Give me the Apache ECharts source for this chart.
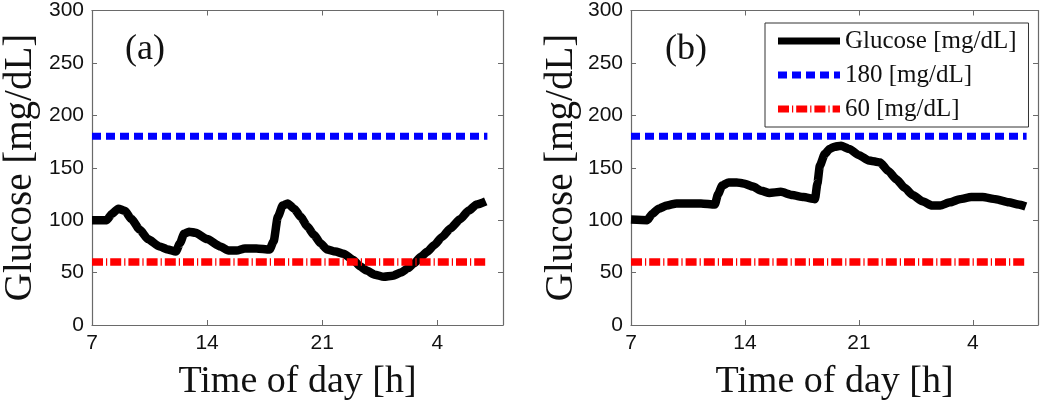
<!DOCTYPE html>
<html>
<head>
<meta charset="utf-8">
<script src="https://cdn.jsdelivr.net/npm/echarts@6/dist/echarts.min.js"></script>
<style>
html,body{margin:0;padding:0;background:#fff;}
#chart{width:1050px;height:406px;}
</style>
</head>
<body>
<div id="chart"></div>
<script>
// ---- data ----
const hoursA = [7, 7.9, 8.2, 8.6, 9.0, 9.4, 9.9, 10.4, 11.1, 11.6, 12.1, 12.35, 12.6, 12.9, 13.3, 14.0, 14.8, 15.3, 15.8, 16.3, 17.0, 17.8, 18.05, 18.3, 18.6, 18.9, 19.3, 19.7, 20.1, 20.5, 20.9, 21.3, 21.8, 22.3, 22.9, 23.3, 23.7, 24.2, 24.75, 25.3, 25.8, 26.2, 26.6, 27.0, 27.4, 27.8, 28.3, 28.8, 29.4, 29.9, 30.4, 30.95];
const glucoseA = [100, 100, 106, 111, 109, 101, 91, 82, 75, 72, 70, 78, 87, 89, 88, 82, 75, 71, 71, 73, 73, 72, 80, 103, 114, 116, 111, 103, 94, 86, 78, 72, 70, 68, 62, 56, 52, 48, 46, 47, 50, 54, 59, 65, 70, 76, 84, 92, 101, 109, 115, 118];
const hoursB = [7, 8.0, 8.3, 8.7, 9.2, 9.8, 10.5, 11.3, 12.15, 12.35, 12.6, 13.0, 13.5, 13.9, 14.5, 15.0, 15.5, 16.2, 16.9, 17.6, 18.3, 18.45, 18.6, 18.9, 19.2, 19.5, 19.9, 20.4, 21.0, 21.6, 22.3, 22.8, 23.3, 23.8, 24.3, 24.9, 25.5, 26.0, 26.6, 27.2, 27.9, 28.6, 29.4, 30.2, 30.8, 31.25];
const glucoseB = [100.6, 100, 106, 111, 114, 116, 116, 116, 115, 125, 133, 136, 136, 135, 132, 128, 126, 127, 124, 122, 120, 135, 152, 163, 168, 170, 171, 168, 162, 157, 155, 147, 139, 131, 124, 118, 114, 114, 117, 120, 122, 122, 120, 117, 115, 113];
const spanA = [7, 31.05];
const spanB = [7, 31.3];
const upperLimit = 180;
const lowerLimit = 60;
const xTickValues = [7, 14, 21, 28];
const xTickLabels = ['7', '14', '21', '4'];
const seriesNames = ['Glucose [mg/dL]', '180 [mg/dL]', '60 [mg/dL]'];
const panelLabels = ['(a)', '(b)'];
const xTitle = 'Time of day [h]';
const yTitle = 'Glucose [mg/dL]';

// ---- chart ----
const chart = echarts.init(document.getElementById('chart'), null, {renderer: 'canvas'});
const axisColor = '#6a6a6a';
const labelFont = 'Liberation Sans, Arial, sans-serif';
const serifFont = 'Liberation Serif, Times New Roman, serif';

function xFmt(v) {
  const i = xTickValues.indexOf(v);
  return i >= 0 ? xTickLabels[i] : '';
}
function pairs(xs, ys) { return xs.map((x, i) => [x, ys[i]]); }

const grids = [
  {left: 92, top: 10, width: 411, height: 315},
  {left: 631, top: 10, width: 407, height: 315}
];

const xAxes = [], yAxes = [];
grids.forEach((g, gi) => {
  xAxes.push({
    gridIndex: gi, type: 'value', min: 7, max: 32, interval: 7, position: 'bottom',
    axisLine: {show: true, onZero: false, lineStyle: {color: axisColor, width: 1.2}},
    axisTick: {show: true, inside: true, length: 5, lineStyle: {color: axisColor}},
    axisLabel: {show: true, formatter: xFmt, fontSize: 21, fontFamily: labelFont, color: '#111', margin: 8},
    splitLine: {show: false}
  });
  xAxes.push({
    gridIndex: gi, type: 'value', min: 7, max: 32, interval: 7, position: 'top',
    axisLine: {show: true, onZero: false, lineStyle: {color: axisColor, width: 1.2}},
    axisTick: {show: true, inside: true, length: 5, lineStyle: {color: axisColor}},
    axisLabel: {show: false}, splitLine: {show: false}
  });
  yAxes.push({
    gridIndex: gi, type: 'value', min: 0, max: 300, interval: 50, position: 'left',
    axisLine: {show: true, onZero: false, lineStyle: {color: axisColor, width: 1.2}},
    axisTick: {show: true, inside: true, length: 5, lineStyle: {color: axisColor}},
    axisLabel: {show: true, fontSize: 21, fontFamily: labelFont, color: '#111', margin: 8},
    splitLine: {show: false}
  });
  yAxes.push({
    gridIndex: gi, type: 'value', min: 0, max: 300, interval: 50, position: 'right',
    axisLine: {show: true, onZero: false, lineStyle: {color: axisColor, width: 1.2}},
    axisTick: {show: true, inside: true, length: 5, lineStyle: {color: axisColor}},
    axisLabel: {show: false}, splitLine: {show: false}
  });
});

function panelSeries(gi, hours, values, span) {
  const xi = gi * 2, yi = gi * 2;
  return [
    {
      name: seriesNames[0], type: 'line', xAxisIndex: xi, yAxisIndex: yi,
      data: pairs(hours, values), showSymbol: false, symbol: 'none',
      smooth: 0.2, smoothMonotone: 'x',
      lineStyle: {color: '#000', width: 8.5, join: 'round'},
      itemStyle: {color: '#000'}, z: 2
    },
    {
      name: seriesNames[1], type: 'line', xAxisIndex: xi, yAxisIndex: yi,
      data: span.map(x => [x, upperLimit]), showSymbol: false, symbol: 'none',
      lineStyle: {color: '#0000ff', width: 7, type: [9, 5]},
      itemStyle: {color: '#0000ff'}, z: 3
    },
    {
      name: seriesNames[2], type: 'line', xAxisIndex: xi, yAxisIndex: yi,
      data: span.map(x => [x, lowerLimit]), showSymbol: false, symbol: 'none',
      lineStyle: {color: '#ff0000', width: 7.5, type: [11, 3, 1.2, 3]},
      itemStyle: {color: '#ff0000'}, z: 4
    }
  ];
}

// legend icons (sample strokes) as paths
const legendIcons = [
  'path://M0,0H62V7H0Z',
  'path://M0,0h9v7h-9z M14,0h9v7h-9z M28,0h9v7h-9z M42,0h9v7h-9z M56,0h6v7h-6z',
  'path://M0,0h11v7h-11z M14,0h1.2v7h-1.2z M18.2,0h11v7h-11z M32.2,0h1.2v7h-1.2z M36.4,0h11v7h-11z M50.4,0h1.2v7h-1.2z M54.6,0h7.4v7h-7.4z'
];
const legendColors = ['#000', '#0000ff', '#ff0000'];

const graphics = [];
const yTitleX = [21, 562];
const labelPos = [[145, 50], [686, 50]];
grids.forEach((g, gi) => {
  graphics.push({
    type: 'text', x: yTitleX[gi], y: g.top + g.height / 2, rotation: Math.PI / 2,
    style: {text: yTitle, font: '39px ' + serifFont, fill: '#111', textAlign: 'center', textVerticalAlign: 'middle'}
  });
  graphics.push({
    type: 'text', x: g.left + g.width / 2, y: 382,
    style: {text: xTitle, font: '38px ' + serifFont, fill: '#111', textAlign: 'center', textVerticalAlign: 'middle'}
  });
  graphics.push({
    type: 'text', x: labelPos[gi][0], y: labelPos[gi][1],
    style: {text: panelLabels[gi], font: '36px ' + serifFont, fill: '#111', textAlign: 'center', textVerticalAlign: 'middle'}
  });
});

chart.setOption({
  animation: false,
  backgroundColor: '#fff',
  grid: grids,
  xAxis: xAxes,
  yAxis: yAxes,
  legend: {
    show: true, orient: 'vertical', left: 765, top: 23,
    data: seriesNames.map((n, i) => ({name: n, icon: legendIcons[i], itemStyle: {color: legendColors[i], borderWidth: 0}})),
    selectedMode: false, itemWidth: 62, itemHeight: 7, itemGap: 8, symbolKeepAspect: false,
    padding: [5, 12, 5, 13], borderColor: '#333', borderWidth: 1, borderRadius: 0,
    backgroundColor: '#fff',
    textStyle: {fontFamily: serifFont, fontSize: 25, color: '#111', lineHeight: 26}
  },
  graphic: graphics,
  series: [].concat(panelSeries(0, hoursA, glucoseA, spanA), panelSeries(1, hoursB, glucoseB, spanB))
});
</script>
</body>
</html>
